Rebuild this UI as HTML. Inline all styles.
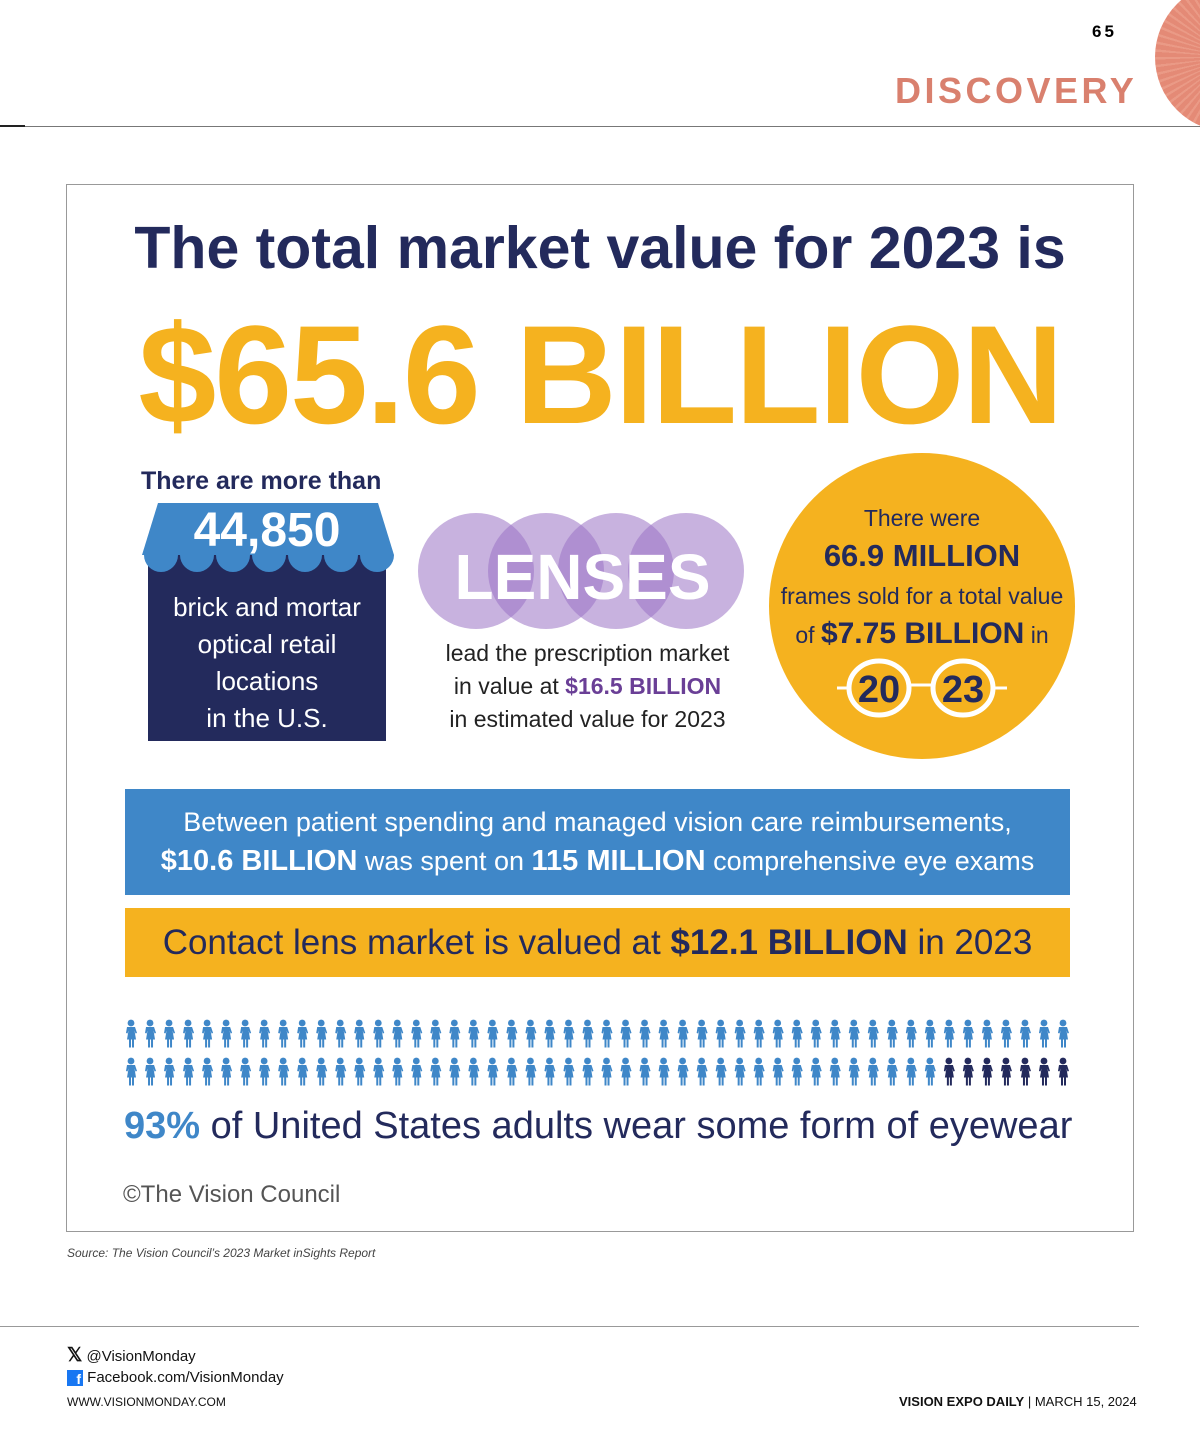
<!DOCTYPE html>
<html><head><meta charset="utf-8">
<style>
*{margin:0;padding:0;box-sizing:border-box}
body{width:1200px;height:1450px;background:#fff;position:relative;overflow:hidden;font-family:"Liberation Sans",sans-serif}
.a{position:absolute}
.navy{color:#232a5c}
.c{text-align:center;white-space:nowrap}
</style></head><body>
<div class="a" style="left:1155px;top:-18px;width:150px;height:150px;border-radius:50%;background:repeating-conic-gradient(#e48a76 0 4deg,#ea9a86 4deg 6deg)"></div>
<div class="a" style="left:1092px;top:22px;font-size:17px;font-weight:bold;letter-spacing:3px">65</div>
<div class="a" style="left:895px;top:70px;font-size:36px;font-weight:bold;color:#d9806e;letter-spacing:3.5px">DISCOVERY</div>
<div class="a" style="left:0;top:126px;width:1200px;height:1px;background:#777"></div>
<div class="a" style="left:0;top:125px;width:25px;height:2px;background:#222"></div>

<div class="a" style="left:66px;top:184px;width:1068px;height:1048px;border:1px solid #999"></div>
<div class="a c navy" style="left:66px;width:1068px;top:214px;font-size:59px;font-weight:bold">The total market value for 2023 is</div>
<div class="a c" style="left:66px;width:1068px;top:294px;font-size:140px;font-weight:bold;color:#f5b21f;letter-spacing:-2px">$65.6 BILLION</div>

<div class="a navy" style="left:141px;top:467px;font-size:25px;font-weight:bold">There are more than</div>
<div class="a" style="left:148px;top:555px;width:238px;height:186px;background:#232a5c"></div>
<svg class="a" style="left:140px;top:500px" width="260" height="90">
<polygon points="18,3 238,3 254,55 2,55" fill="#3f87c8"/>
<g fill="#3f87c8">
<path d="M4 55 a17 17 0 0 0 34 0Z"/><path d="M40 55 a17 17 0 0 0 34 0Z"/><path d="M76 55 a17 17 0 0 0 34 0Z"/><path d="M112 55 a17 17 0 0 0 34 0Z"/><path d="M148 55 a17 17 0 0 0 34 0Z"/><path d="M184 55 a17 17 0 0 0 34 0Z"/><path d="M220 55 a17 17 0 0 0 34 0Z"/>
</g></svg>
<div class="a c" style="left:148px;width:238px;top:503px;font-size:48px;font-weight:bold;color:#fff">44,850</div>
<div class="a c" style="left:148px;width:238px;top:589px;font-size:26px;line-height:37px;color:#fff">brick and mortar<br>optical retail<br>locations<br>in the U.S.</div>

<svg class="a" style="left:410px;top:505px" width="345" height="135">
<g fill="#9a72c4" fill-opacity="0.55">
<circle cx="66" cy="66" r="58"/><circle cx="136" cy="66" r="58"/><circle cx="206" cy="66" r="58"/><circle cx="276" cy="66" r="58"/>
</g></svg>
<div class="a c" style="left:410px;width:345px;top:540px;font-size:64px;font-weight:bold;color:#fff">LENSES</div>
<div class="a c" style="left:410px;width:355px;top:637px;font-size:23px;line-height:33px;color:#222">lead the prescription market<br>in value at <b style="color:#6a3f96">$16.5 BILLION</b><br>in estimated value for 2023</div>

<div class="a" style="left:769px;top:453px;width:306px;height:306px;border-radius:50%;background:#f5b21f"></div>
<div class="a c navy" style="left:769px;width:306px;top:499px;font-size:23px;line-height:38px">There were<br><b style="font-size:31px">66.9 MILLION</b><br>frames sold for a total value<br>of <b style="font-size:30px">$7.75 BILLION</b> in</div>
<svg class="a" style="left:835px;top:655px" width="175" height="70">
<line x1="2" y1="33" x2="14" y2="33" stroke="#fff" stroke-width="3"/><line x1="160" y1="33" x2="172" y2="33" stroke="#fff" stroke-width="3"/>
<line x1="72" y1="30" x2="100" y2="30" stroke="#fff" stroke-width="3"/>
<ellipse cx="44" cy="33" rx="30" ry="27" fill="none" stroke="#fff" stroke-width="5"/>
<ellipse cx="128" cy="33" rx="30" ry="27" fill="none" stroke="#fff" stroke-width="5"/>
<text x="44" y="47" text-anchor="middle" font-family="Liberation Sans" font-weight="bold" font-size="38" fill="#232a5c">20</text>
<text x="128" y="47" text-anchor="middle" font-family="Liberation Sans" font-weight="bold" font-size="38" fill="#232a5c">23</text>
</svg>

<div class="a c" style="left:125px;top:789px;width:945px;height:106px;background:#3f87c8;color:#fff;font-size:27px;line-height:39px;padding-top:14px">Between patient spending and managed vision care reimbursements,<br><b style="font-size:29px">$10.6 BILLION</b> was spent on <b style="font-size:29px">115 MILLION</b> comprehensive eye exams</div>
<div class="a c navy" style="left:125px;top:908px;width:945px;height:69px;background:#f5b21f;font-size:35px;line-height:69px">Contact lens market is valued at <b>$12.1 BILLION</b> in 2023</div>

<svg class="a" id="people" style="left:0;top:1010px" width="1200" height="90"></svg>

<div class="a" style="left:124px;top:1105px;font-size:38px;color:#232a5c;white-space:nowrap"><b style="color:#3f87c8">93%</b> of United States adults wear some form of eyewear</div>
<div class="a" style="left:123px;top:1181px;font-size:24px;color:#555">©The Vision Council</div>
<div class="a" style="left:67px;top:1246px;font-size:12px;font-style:italic;color:#444">Source: The Vision Council’s 2023 Market inSights Report</div>

<div class="a" style="left:0;top:1326px;width:1139px;height:1px;background:#999"></div>
<div class="a" style="left:67px;top:1344px;font-size:15px;color:#111"><b style="font-size:19px">𝕏</b> @VisionMonday</div>
<div class="a" style="left:67px;top:1369px;font-size:15px;color:#111"><span style="display:inline-block;width:16px;height:16px;background:#1877f2;color:#fff;font-weight:bold;font-size:14px;text-align:right;vertical-align:-2px;padding-right:2px;line-height:18px">f</span> Facebook.com/VisionMonday</div>
<div class="a" style="left:67px;top:1395px;font-size:12px;color:#111">WWW.VISIONMONDAY.COM</div>
<div class="a" style="left:899px;top:1394px;font-size:13px;color:#111"><b>VISION EXPO DAILY</b> | MARCH 15, 2024</div>

<script>
const totalPeople = 100;
const eyewearPct = 93;
const perRow = 50;
const svg = document.getElementById('people');
const NS = 'http://www.w3.org/2000/svg';
const x0 = 131, dx = (1063 - 131) / (perRow - 1);
for (let i = 0; i < totalPeople; i++) {
  const row = Math.floor(i / perRow), col = i % perRow;
  const cx = x0 + col * dx, top = 10 + row * 38;
  const color = i < eyewearPct ? '#3f87c8' : '#232a5c';
  const g = document.createElementNS(NS, 'g');
  
  
  g.setAttribute('fill', color);
  g.innerHTML = `<circle cx="${cx}" cy="${top+3}" r="3.4"/><path d="M${cx-4} ${top+7} h8 l2 6 l-1.5 0.5 l-1-3 l1.5 9 h-2 v8 h-2 v-8 h-1 v8 h-2 v-8 h-2 l1.5-9 l-1 3 l-1.5-0.5z"/>`;
  svg.appendChild(g);
}
</script>
</body></html>
